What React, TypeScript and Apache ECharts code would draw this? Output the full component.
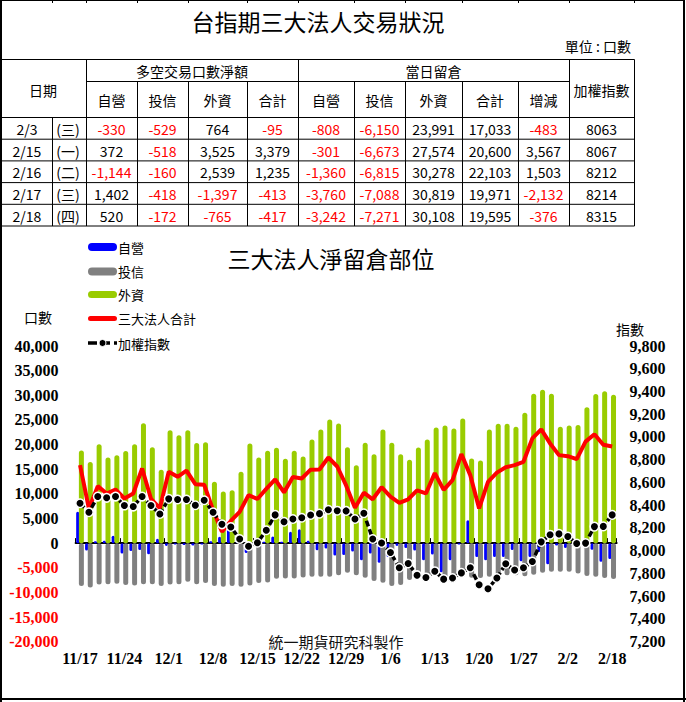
import React, { useEffect, useRef } from 'react';
import * as echarts from 'echarts';

// ---------- chart data (net open interest, 口數) ----------
const dates = [
  '11/17', '11/18', '11/19', '11/20', '11/23', '11/24', '11/25', '11/26', '11/27', '11/30',
  '12/1', '12/2', '12/3', '12/4', '12/7', '12/8', '12/9', '12/10', '12/11', '12/14',
  '12/15', '12/16', '12/17', '12/18', '12/21', '12/22', '12/23', '12/24', '12/25', '12/28',
  '12/29', '12/30', '12/31', '1/4', '1/5', '1/6', '1/7', '1/8', '1/11', '1/12',
  '1/13', '1/14', '1/15', '1/18', '1/19', '1/20', '1/21', '1/22', '1/25', '1/26',
  '1/27', '1/28', '1/29', '1/30', '2/1', '2/2', '2/3', '2/15', '2/16', '2/17',
  '2/18',
];

const propOI = [
  6350, -1500, 400, 500, 1500, -2100, -1600, -1400, -2250, 900,
  -600, -300, -400, -500, -300, 400, 1280, 2900, 500, -2000,
  -400, 300, 1350, 300, 2300, 2840, 500, -1420, -1100, -2500,
  -2400, -1700, -3450, -2100, -4000, -2800, -600, -1000, -1500, -3450,
  -2300, -5900, -3450, -300, 4660, -2800, -3450, -2800, -2800, -1400,
  -3700, -2800, -1800, -4300, -500, -1000, -808, -301, -1360, -3760,
  -3242,
];

const trustOI = [
  -8720, -8990, -8400, -8320, -8250, -8520, -8600, -8320, -8320, -8720,
  -8400, -8320, -7850, -8320, -8100, -8720, -8850, -8720, -8850, -8600,
  -8100, -8000, -7250, -7170, -7170, -6960, -6830, -6830, -6800, -6500,
  -6000, -6500, -7000, -7700, -8050, -8720, -8500, -7500, -7200, -6800,
  -6500, -7000, -7000, -6800, -7000, -7100, -6800, -6500, -6500, -6500,
  -6700, -6400, -6000, -5800, -5800, -5800, -6150, -6673, -6815, -7088,
  -7271,
];

const foreignOI = [
  18800, 16450, 20050, 17380, 17850, 18670, 20050, 24350, 19480, 14900,
  22920, 21900, 22920, 20300, 20480, 12440, 10500, 10750, 14470, 20220,
  17380, 18730, 19340, 17100, 18730, 17580, 21030, 23060, 25085, 24275,
  19470, 15820, 20390, 18020, 23060, 20390, 18020, 16900, 19410, 21030,
  23460, 23870, 23260, 25290, 17170, 16770, 23060, 24200, 24230, 23600,
  26480, 30290, 31100, 30290, 23600, 23870, 23991, 27574, 30278, 30819,
  30108,
];

const totalOI = [
  15818, 7000, 11560, 10072, 10884, 9058, 10072, 15142, 9000, 7100,
  14466, 13452, 14700, 11965, 11850, 6700, 2300, 4500, 6354, 9734,
  8960, 11000, 12920, 10300, 13400, 13120, 14900, 14940, 17380, 15550,
  11700, 7200, 10240, 8900, 11350, 9450, 8180, 8900, 10700, 10080,
  14200, 10800, 12780, 18060, 13800, 7040, 12440, 14300, 15400, 15820,
  16500, 21240, 23070, 20230, 17860, 17650, 17033, 20600, 22103, 19971,
  19595,
];

const taiex = [
  8417, 8338, 8476, 8465, 8476, 8397, 8388, 8476, 8397, 8323,
  8456, 8450, 8450, 8400, 8444, 8338, 8232, 8209, 8103, 8040,
  8070, 8180, 8315, 8255, 8279, 8290, 8314, 8326, 8360, 8352,
  8350, 8279, 8329, 8103, 8068, 7985, 7850, 7888, 7785, 7765,
  7820, 7750, 7760, 7805, 7850, 7700, 7665, 7760, 7885, 7830,
  7850, 7905, 8078, 8141, 8148, 8125, 8063, 8067, 8212, 8214,
  8315,
];

// ---------- table data ----------
const tableDates = ['2/3', '2/15', '2/16', '2/17', '2/18'];
const tableWeekdays = ['(三)', '(一)', '(二)', '(三)', '(四)'];
const tradeProp = [-330, 372, -1144, 1402, 520];
const tradeTrust = [-529, -518, -160, -418, -172];
const tradeForeign = [764, 3525, 2539, -1397, -765];
const tradeTotal = [-95, 3379, 1235, -413, -417];
const oiProp = [-808, -301, -1360, -3760, -3242];
const oiTrust = [-6150, -6673, -6815, -7088, -7271];
const oiForeign = [23991, 27574, 30278, 30819, 30108];
const oiTotal = [17033, 20600, 22103, 19971, 19595];
const oiChange = [-483, 3567, 1503, -2132, -376];
const tableIndex = [8063, 8067, 8212, 8214, 8315];

const subHeaders = ['自營', '投信', '外資', '合計', '自營', '投信', '外資', '合計', '增減'];
const legendNames = ['自營', '投信', '外資', '三大法人合計', '加權指數'];

const CJK = '"Noto Sans CJK TC", "Noto Sans CJK SC", sans-serif';
const SERIF = '"Liberation Serif", "Times New Roman", serif';

const fmt = (v: number) => v.toLocaleString('en-US');

function buildGraphics() {
  const g: any[] = [];
  const line = (x1: number, y1: number, x2: number, y2: number, w = 1, extra: any = {}) =>
    g.push({ type: 'line', silent: true, shape: { x1, y1, x2, y2 }, style: { stroke: '#000', lineWidth: w, ...extra } });
  const text = (t: string, x: number, y: number, opts: any = {}) =>
    g.push({
      type: 'text', silent: true,
      style: { text: t, x, y, align: 'center', verticalAlign: 'middle', fontSize: 14, fontFamily: CJK, fill: '#000', ...opts },
    });

  // outer frame
  line(0.5, 0.5, 685, 0.5, 1);
  line(1, 0, 1, 702, 2);
  line(684, 0, 684, 702, 2);
  line(0, 699, 686, 699, 2);

  // titles
  text('台指期三大法人交易狀況', 318, 21, { fontSize: 23 });
  text('單位 : 口數', 631, 46, { align: 'right', fontSize: 14 });

  // table grid
  const colEdges = [0, 52, 86, 137, 188, 247, 298, 354, 405, 462, 518, 569, 634];
  colEdges.slice(1).forEach((x) => line(x + 0.5, 0, x + 0.5, 3, 1));
  const top = 59.5, mid = 81.5, headBottom = 117.5, rowH = 21.7;
  const bottom = headBottom + rowH * 5;
  line(0, top, 634.5, top);
  line(86, mid, 569.5, mid);
  line(0, headBottom, 634.5, headBottom);
  for (let r = 1; r <= 5; r++) line(0, headBottom + rowH * r, 634.5, headBottom + rowH * r);
  [86, 298, 569, 634].forEach((x) => line(x + 0.5, top, x + 0.5, bottom));
  [137, 188, 247, 354, 405, 462, 518].forEach((x) => line(x + 0.5, mid, x + 0.5, bottom));
  line(52.5, headBottom, 52.5, bottom);

  // headers
  text('日期', 43, 89.5);
  text('多空交易口數淨額', 192, 71);
  text('當日留倉', 433.5, 71);
  text('加權指數', 601.5, 89.5);
  const centers = colEdges.slice(2, 12).map((x, i) => (x + colEdges[i + 3]) / 2);
  subHeaders.forEach((h, i) => text(h, centers[i], 99.5));

  const numCols = [tradeProp, tradeTrust, tradeForeign, tradeTotal, oiProp, oiTrust, oiForeign, oiTotal, oiChange];
  tableDates.forEach((d, r) => {
    const y = headBottom + rowH * r + rowH / 2 + 0.5;
    text(d, 27, y);
    text(tableWeekdays[r], 68, y);
    numCols.forEach((col, c) => {
      const v = col[r];
      text(fmt(v), centers[c], y, { fill: v < 0 ? '#FF0000' : '#000' });
    });
    text(String(tableIndex[r]), 601.5, y);
  });

  // chart title and axis names
  text('三大法人淨留倉部位', 331, 258, { fontSize: 23 });
  text('口數', 38, 317, { fontSize: 14 });
  text('指數', 630, 329, { fontSize: 14 });
  text('統一期貨研究科製作', 336, 641, { fontSize: 15, fill: '#111' });

  // legend
  const lx = 88, lw = 29;
  const ly = [247, 271.5, 294.5, 318.5, 343];
  g.push({ type: 'rect', silent: true, shape: { x: lx, y: ly[0] - 4, width: lw, height: 8, r: 4 }, style: { fill: '#0000FF' } });
  g.push({ type: 'rect', silent: true, shape: { x: lx, y: ly[1] - 4, width: lw, height: 8, r: 4 }, style: { fill: '#808080' } });
  g.push({ type: 'rect', silent: true, shape: { x: lx, y: ly[2] - 3.5, width: lw, height: 7, r: 3.5 }, style: { fill: '#99CC00' } });
  g.push({ type: 'rect', silent: true, shape: { x: lx, y: ly[3] - 2.5, width: lw, height: 5, r: 2.5 }, style: { fill: '#FF0000' } });
  line(lx, ly[4], lx + lw, ly[4], 3.5, { lineDash: [9, 4] });
  g.push({ type: 'circle', silent: true, shape: { cx: lx + 14.5, cy: ly[4], r: 3.5 }, style: { fill: '#000', stroke: '#fff', lineWidth: 1 } });
  legendNames.forEach((n, i) => text(n, lx + lw + 1, ly[i], { align: 'left', fontSize: 13 }));

  return g;
}

const axisFont = { fontFamily: SERIF, fontWeight: 'bold', fontSize: 16 } as any;

function buildOption(): any {
  return {
    animation: false,
    backgroundColor: '#fff',
    grid: { left: 75.6, right: 69.4, top: 346, bottom: 60.3, containLabel: false, outerBoundsMode: 'none' },
    xAxis: [
      {
        type: 'category', data: dates, boundaryGap: true,
        axisLine: { show: false, onZero: false }, axisTick: { show: false },
        axisLabel: { interval: 4, margin: 9, color: '#000', ...axisFont },
        splitLine: { show: false },
      },
      {
        type: 'category', data: dates, boundaryGap: true, position: 'bottom',
        axisLine: { show: true, onZero: true, onZeroAxisIndex: 0, lineStyle: { color: '#000', width: 2 } },
        axisTick: { show: true, inside: true, length: 5, lineStyle: { color: '#000', width: 1 } },
        axisLabel: { show: false }, splitLine: { show: false },
      },
    ],
    yAxis: [
      {
        type: 'value', min: -20000, max: 40000, interval: 5000, position: 'left',
        axisLine: { show: false }, axisTick: { show: false }, splitLine: { show: false },
        axisLabel: {
          margin: 17,
          formatter: (v: number) => (v < 0 ? `{neg|${fmt(v)}}` : `{pos|${fmt(v)}}`),
          rich: {
            pos: { color: '#000', ...axisFont },
            neg: { color: '#FF0000', ...axisFont },
          },
        },
      },
      {
        type: 'value', min: 7200, max: 9800, interval: 200, position: 'right',
        axisLine: { show: false }, axisTick: { show: false }, splitLine: { show: false },
        axisLabel: { margin: 13, color: '#000', formatter: (v: number) => fmt(v), ...axisFont },
      },
    ],
    series: [
      {
        name: '自營', type: 'bar', data: propOI, barWidth: 3,
        itemStyle: { color: '#0000FF', borderRadius: 1.5 }, z: 2,
      },
      {
        name: '投信', type: 'bar', data: trustOI, stack: 'tf', barWidth: 5,
        itemStyle: { color: '#808080', borderRadius: 2.5 }, z: 2,
      },
      {
        name: '外資', type: 'bar', data: foreignOI, stack: 'tf', barWidth: 5, barGap: '-10%',
        itemStyle: { color: '#99CC00', borderRadius: 2.5 }, z: 2,
      },
      {
        name: '三大法人合計', type: 'line', data: totalOI, showSymbol: false, symbol: 'none',
        lineStyle: { color: '#FF0000', width: 4 }, itemStyle: { color: '#FF0000' }, z: 5,
      },
      {
        name: '加權指數', type: 'line', yAxisIndex: 1, data: taiex,
        symbol: 'circle', symbolSize: 8.5, showSymbol: true, showAllSymbol: true,
        lineStyle: { color: '#000', width: 3.5, type: [6, 3] },
        itemStyle: { color: '#000', borderColor: '#fff', borderWidth: 1.5 }, z: 6,
      },
    ],
    graphic: { elements: buildGraphics() },
  };
}

export default function App() {
  const ref = useRef<HTMLDivElement>(null);
  useEffect(() => {
    if (!ref.current) return;
    const chart = echarts.init(ref.current, null, { renderer: 'svg' });
    chart.setOption(buildOption());
    return () => chart.dispose();
  }, []);
  return (
    <div
      ref={ref}
      style={{ position: 'absolute', left: 0, top: 0, width: 686, height: 702, background: '#fff' }}
    />
  );
}
